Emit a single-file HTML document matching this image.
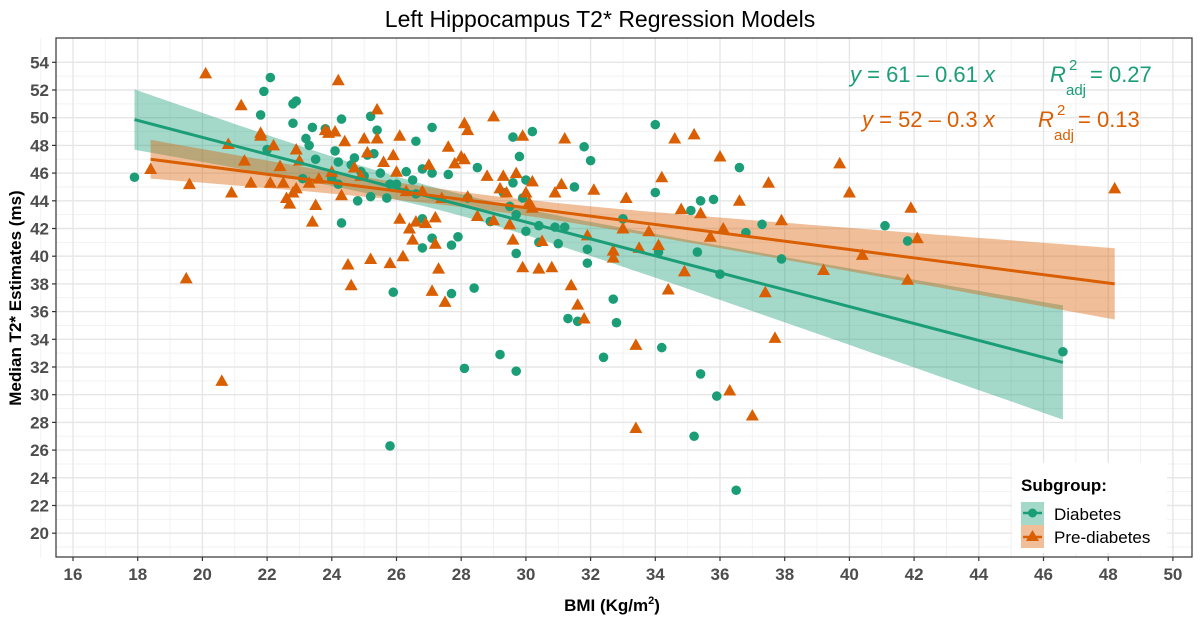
<!DOCTYPE html>
<html><head><meta charset="utf-8"><style>
body{margin:0;background:#fff;font-family:"Liberation Sans",sans-serif}
svg text{font-family:"Liberation Sans",sans-serif}
</style></head><body>
<svg id="c" width="1200" height="620" xmlns="http://www.w3.org/2000/svg">
<rect width="1200" height="620" fill="#fff"/>
<g id="grid"></g><g id="bands"></g><g id="pts"></g><g id="lines"></g><g id="axes"></g>
<text x="600" y="27" text-anchor="middle" font-size="23" fill="#000">Left Hippocampus T2* Regression Models</text>
<text x="612" y="611" text-anchor="middle" font-size="17" font-weight="bold" fill="#000">BMI (Kg/m<tspan font-size="11" dy="-7">2</tspan><tspan dy="7">)</tspan></text>
<text transform="translate(21,298) rotate(-90)" text-anchor="middle" font-size="17" font-weight="bold" fill="#000">Median T2* Estimates (ms)</text>
<g fill="#1b9e77" font-size="22">
<text x="850" y="82"><tspan font-style="italic">y</tspan> = 61 – 0.61 <tspan font-style="italic">x</tspan></text>
<text x="1050" y="82" font-style="italic">R</text>
<text x="1069" y="70" font-size="15">2</text>
<text x="1066" y="95" font-size="15">adj</text>
<text x="1090" y="82"> = 0.27</text>
</g>
<g fill="#d95f02" font-size="22">
<text x="862" y="127"><tspan font-style="italic">y</tspan> = 52 – 0.3 <tspan font-style="italic">x</tspan></text>
<text x="1038" y="127" font-style="italic">R</text>
<text x="1057" y="115" font-size="15">2</text>
<text x="1054" y="140" font-size="15">adj</text>
<text x="1078" y="127"> = 0.13</text>
</g>
<g>
<rect x="1012" y="463" width="155" height="90" fill="#fff"/>
<text x="1021" y="491" font-size="17" font-weight="bold">Subgroup:</text>
<rect x="1021" y="502" width="23" height="23" fill="#1b9e77" fill-opacity="0.4"/>
<rect x="1021" y="525" width="23" height="23" fill="#d95f02" fill-opacity="0.4"/>
<line x1="1023" y1="513" x2="1042" y2="513" stroke="#1b9e77" stroke-width="2.5"/>
<circle cx="1032.5" cy="513" r="4.5" fill="#1b9e77"/>
<line x1="1023" y1="537" x2="1042" y2="537" stroke="#d95f02" stroke-width="2.5"/>
<polygon points="1032.5,530 1039,541 1026,541" fill="#d95f02"/>
<text x="1054" y="520" font-size="17">Diabetes</text>
<text x="1054" y="543" font-size="17">Pre-diabetes</text>
</g>
</svg>
<script>
const xTicks=[16,18,20,22,24,26,28,30,32,34,36,38,40,42,44,46,48,50];
const yTicks=[20,22,24,26,28,30,32,34,36,38,40,42,44,46,48,50,52,54];
const diabX=[17.9,21.9,22.1,22.0,21.8,22.8,22.9,22.8,23.3,23.4,23.2,23.5,23.1,23.8,24.0,24.1,24.3,24.2,24.3,24.2,24.6,24.7,24.9,24.8,25.0,25.1,25.2,25.3,25.4,25.2,25.5,25.7,25.8,26.0,26.3,26.5,26.6,26.6,26.8,26.8,26.8,27.1,27.1,27.1,27.6,27.7,27.9,27.7,28.1,28.2,28.4,28.5,28.9,25.9,25.8,29.3,29.2,29.5,29.6,29.6,29.7,29.7,29.7,29.8,29.9,30.0,30.0,30.2,30.4,30.4,30.9,31.0,31.2,31.3,31.5,31.6,31.8,31.9,31.9,32.0,32.4,32.7,32.8,33.0,34.0,34.0,34.1,34.2,35.1,35.3,35.2,35.4,35.4,35.8,35.9,36.0,36.5,36.6,36.8,37.3,37.9,41.1,41.8,46.6];
const diabY=[45.7,51.9,52.9,47.7,50.2,51.0,51.2,49.6,48.0,49.3,48.5,47.0,45.6,49.2,45.6,47.6,49.9,46.8,42.4,45.2,46.6,47.1,46.1,44.0,45.8,47.3,50.1,47.4,49.1,44.3,46.0,44.2,45.2,45.2,46.1,45.5,44.5,48.3,46.3,40.6,42.7,41.3,46.0,49.3,45.9,40.8,41.4,37.3,31.9,44.2,37.7,46.4,42.5,37.4,26.3,44.6,32.9,43.6,48.6,45.3,43.0,40.2,31.7,47.2,44.2,41.8,45.5,49.0,42.2,41.0,42.1,40.9,42.1,35.5,45.0,35.3,47.9,39.5,40.5,46.9,32.7,36.9,35.2,42.7,44.6,49.5,40.3,33.4,43.3,40.3,27.0,31.5,44.0,44.1,29.9,38.7,23.1,46.4,41.7,42.3,39.8,42.2,41.1,33.1];
const preX=[18.4,19.5,19.6,20.1,20.6,20.8,20.9,21.2,21.3,21.5,21.8,21.8,22.2,22.1,22.4,22.5,22.6,22.7,22.8,22.9,22.9,23.0,23.3,23.5,23.4,23.6,23.8,23.9,24.0,24.1,24.3,24.2,24.4,24.5,24.6,24.7,24.9,25.0,25.1,25.2,25.4,25.4,25.6,25.8,25.9,26.0,26.1,26.1,26.2,26.3,26.4,26.5,26.6,26.8,26.9,27.0,27.1,27.2,27.2,27.3,27.4,27.5,27.6,27.8,28.0,28.1,28.2,28.2,28.1,28.5,28.8,29.0,29.0,29.2,29.3,29.4,29.5,29.6,29.7,29.9,29.9,30.0,30.1,30.2,30.2,30.4,30.5,30.8,30.9,31.1,31.2,31.4,31.6,31.8,31.9,32.1,32.7,32.7,33.0,33.1,33.4,33.4,33.5,33.8,34.1,34.2,34.4,34.8,34.6,34.9,35.2,35.4,35.7,36.0,36.1,36.3,36.6,37.0,37.4,37.5,37.7,37.9,39.2,39.7,40.0,40.4,41.8,41.9,42.1,48.2];
const preY=[46.3,38.4,45.2,53.2,31.0,48.1,44.6,50.9,46.9,45.3,48.9,48.7,48.0,45.3,46.5,45.3,44.2,43.8,44.6,44.9,47.7,46.9,45.3,43.7,42.5,45.6,49.1,48.9,46.1,49.0,44.4,52.7,48.3,39.4,37.9,46.4,45.8,48.5,47.5,39.8,48.5,50.6,46.8,39.5,47.3,46.1,48.7,42.7,40.0,44.7,42.0,41.2,42.5,44.7,42.4,46.6,37.5,40.9,42.8,39.1,44.2,36.7,47.9,46.7,47.2,49.6,49.1,44.3,47.0,42.9,45.8,50.1,42.6,44.9,45.8,44.6,42.3,41.2,46.0,39.2,48.7,44.6,43.9,43.5,45.4,39.1,41.1,39.2,44.6,45.2,48.5,37.9,36.5,35.5,41.5,44.8,39.9,40.4,42.0,44.2,33.6,27.6,40.6,41.8,40.8,45.7,37.6,43.4,48.5,38.9,48.8,43.1,41.4,47.2,42.0,30.3,44.0,28.5,37.4,45.3,34.1,42.6,39.0,46.7,44.6,40.1,38.3,43.5,41.3,44.9];
const diabFit=[60.8,-0.611], preFit=[52.56,-0.302];
const diabBand=[27.5,0.6,0.045], preBand=[28.5,0.3,0.0163];

const NS="http://www.w3.org/2000/svg";
const L=56,R=1192,T=38,B=557;
const sx=v=>73+(v-16)*32.35;
const sy=v=>62.3+(54-v)*13.85;
function mk(tag,attrs,parent){const e=document.createElementNS(NS,tag);for(const k in attrs)e.setAttribute(k,attrs[k]);document.getElementById(parent).appendChild(e);return e;}
mk('rect',{x:L,y:T,width:R-L,height:B-T,fill:'#fff'},'grid');
for(let i=0;i<xTicks.length-1;i++){const v=(xTicks[i]+xTicks[i+1])/2;mk('line',{x1:sx(v),x2:sx(v),y1:T,y2:B,stroke:'#f2f2f2','stroke-width':1},'grid');}
for(let i=0;i<yTicks.length-1;i++){const v=(yTicks[i]+yTicks[i+1])/2;mk('line',{x1:L,x2:R,y1:sy(v),y2:sy(v),stroke:'#f2f2f2','stroke-width':1},'grid');}
mk('line',{x1:sx(15),x2:sx(15),y1:T,y2:B,stroke:'#f2f2f2'},'grid');
mk('line',{x1:L,x2:R,y1:sy(19),y2:sy(19),stroke:'#f2f2f2'},'grid');
xTicks.forEach(v=>{mk('line',{x1:sx(v),x2:sx(v),y1:T,y2:B,stroke:'#e6e6e6','stroke-width':1.4},'grid');
 mk('line',{x1:sx(v),x2:sx(v),y1:B,y2:B+4,stroke:'#333','stroke-width':1.2},'axes');
 const t=mk('text',{x:sx(v),y:B+23,'text-anchor':'middle','font-size':17,'font-weight':'bold',fill:'#4d4d4d'},'axes');t.textContent=v;
 
 });
yTicks.forEach(v=>{mk('line',{x1:L,x2:R,y1:sy(v),y2:sy(v),stroke:'#e6e6e6','stroke-width':1.4},'grid');
 mk('line',{x1:L-4,x2:L,y1:sy(v),y2:sy(v),stroke:'#333','stroke-width':1.2},'axes');
 const t=mk('text',{x:L-7,y:sy(v)+6,'text-anchor':'end','font-size':17,'font-weight':'bold',fill:'#4d4d4d'},'axes');t.textContent=v;
 
 });
mk('rect',{x:L,y:T,width:R-L,height:B-T,fill:'none',stroke:'#333','stroke-width':1.2},'axes');

function band(xs,fit,bd,col,name){
 const x0=Math.min(...xs),x1=Math.max(...xs);const up=[],dn=[];
 for(let i=0;i<=60;i++){const x=x0+(x1-x0)*i/60;const y=fit[0]+fit[1]*x;const h=Math.sqrt(bd[1]+bd[2]*(x-bd[0])**2);
  up.push(sx(x).toFixed(1)+','+sy(y+h).toFixed(1));dn.unshift(sx(x).toFixed(1)+','+sy(y-h).toFixed(1));}
 const p=mk('polygon',{points:up.concat(dn).join(' '),fill:col,'fill-opacity':0.4},'bands');
 
 
 const l=mk('line',{x1:sx(x0),y1:sy(fit[0]+fit[1]*x0),x2:sx(x1),y2:sy(fit[0]+fit[1]*x1),stroke:col,'stroke-width':3},'lines');
 
 
}
band(diabX,diabFit,diabBand,'#1b9e77','diabetes');
band(preX,preFit,preBand,'#d95f02','prediabetes');
diabX.forEach((x,i)=>{const c=mk('circle',{cx:sx(x),cy:sy(diabY[i]),r:4.8,fill:'#1b9e77'},'pts');
 
 });
preX.forEach((x,i)=>{const X=sx(x),Y=sy(preY[i]);const p=mk('polygon',{points:`${X},${Y-6.5} ${X+6.5},${Y+5} ${X-6.5},${Y+5}`,fill:'#d95f02'},'pts');
 
 });
</script>
</body></html>
